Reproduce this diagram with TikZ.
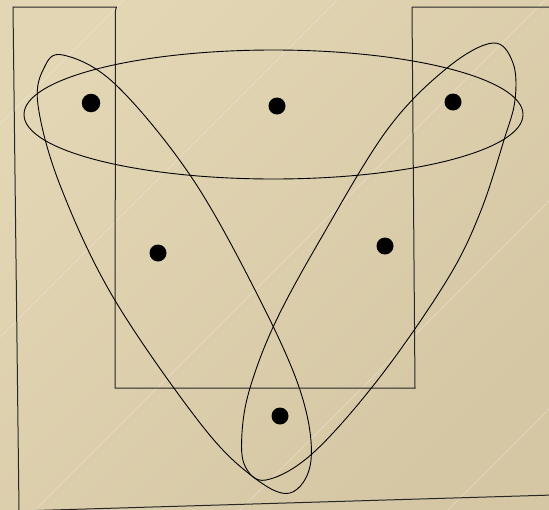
\documentclass[tikz,border=0pt]{standalone}
\definecolor{bglight}{RGB}{227,214,180}
\definecolor{bgdark}{RGB}{213,199,164}
\tikzset{
  outline/.style={draw=black!85, line width=1pt, line join=miter},
  curve/.style={draw=black, line width=0.9pt},
  dotnode/.style={circle, fill=black, inner sep=0pt, minimum size=17pt},
  stripe/.style={draw=white, opacity=0.35, line width=0.6pt}
}
\begin{document}
\begin{tikzpicture}[x=1pt,y=-1pt]
\useasboundingbox (0,0) rectangle (549,509);
\shade[top color=bglight, bottom color=bgdark, shading angle=45] (0,0) rectangle (549,509);
\begin{scope}
\clip (0,0) rectangle (549,509);
\foreach \s in {124,337,545,750,958}{
  \draw[stripe] (\s+20,-20) -- (\s-540,540);
}
% outer outline
\draw[outline] (13,7) -- (116.5,7) -- (115.5,10) -- (115,388) -- (415,388) -- (412,7) -- (620,7) -- (620,493) -- (19,511) -- cycle;
% horizontal ellipse
\draw[curve] (273.5,114.5) ellipse [x radius=249.5, y radius=64.5];
% left egg
\draw[curve] plot[smooth cycle, tension=0.6] coordinates {
  (63,55) (115,84) (190,175) (255,290) (300,390) (311,460) (290,493)
  (252,476) (200,423) (113,297) (60,185) (38,105) (44,68)};
% right egg
\draw[curve] plot[smooth cycle, tension=0.6] coordinates {
  (493,43) (513,63) (515,100) (504,140) (480,213) (447,280) (380,377)
  (313,453) (266,480) (245,466) (242,433) (250,388) (275,323) (320,240)
  (387,130) (447,68)};
\end{scope}
\node[dotnode, minimum size=18.5pt] (d1) at (91,103) {};
\node[dotnode] (d2) at (277,106) {};
\node[dotnode] (d3) at (453,102) {};
\node[dotnode] (d4) at (158,253) {};
\node[dotnode] (d5) at (385,246) {};
\node[dotnode] (d6) at (280,416) {};
\end{tikzpicture}
\end{document}
